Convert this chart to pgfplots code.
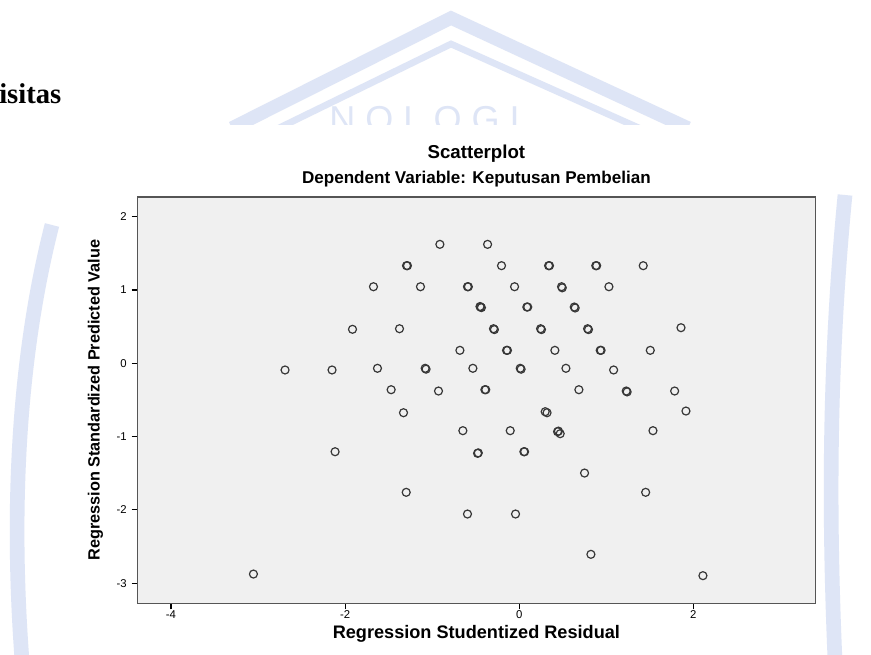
\documentclass[border=0pt]{standalone}
\usepackage{fontspec}
\setmainfont{Liberation Sans}
\newfontfamily\serifb{Liberation Serif}
\newfontfamily\wmfont[LetterSpace=28]{Liberation Sans}
\usepackage{pgfplots}
\pgfplotsset{compat=1.18}
\definecolor{wm}{RGB}{222,229,246}
\definecolor{bg}{RGB}{240,240,240}
\definecolor{framec}{RGB}{85,85,85}
\definecolor{mk}{RGB}{55,55,55}
\begin{document}
\begin{tikzpicture}
\begin{scope}[x=0.75pt,y=-0.75pt]
\useasboundingbox (0,0) rectangle (871,655);
\fill[white] (0,0) rectangle (871,655);
% watermark
\draw[wm, line width=10pt, line join=miter] (232,128) -- (451,18) -- (688,128);
\draw[wm, line width=5pt, line join=miter] (279,128) -- (451,44) -- (639,128);
\begin{scope}
\clip (0,0) rectangle (871,125);
\node[wm, font=\wmfont\fontsize{27}{30}\selectfont, anchor=base west, inner sep=0pt] at (329,132) {NOLOGI};
\end{scope}
\draw[wm, line width=11pt] (52,225) .. controls (20,350) and (10,500) .. (22,660);
\draw[wm, line width=11pt] (845,195) .. controls (830,350) and (828,500) .. (835,660);
\fill[white] (70,125) rectangle (818,655);
\node[font=\serifb\bfseries\fontsize{21.5}{24}\selectfont, anchor=base west, inner sep=0pt] at (-1,104) {isitas};
\node[font=\bfseries\fontsize{14}{16}\selectfont, inner sep=1pt] at (476.4,154) {Scatterplot};
\node[font=\bfseries\fontsize{12.8}{15}\selectfont, inner sep=1pt] at (476.4,179) {Dependent Variable: Keputusan Pembelian};
\end{scope}
\begin{axis}[
  at={(103.125pt,-452.475pt)}, anchor=south west,
  scale only axis, width=508.35pt, height=304.725pt,
  xmin=-4.385, xmax=3.402, ymin=-3.274, ymax=2.269,
  xtick={-4,-2,0,2}, ytick={-3,-2,-1,0,1,2},
  tick pos=left, tick align=outside, major tick length=4.5pt,
  axis background/.style={fill=bg},
  axis line style={draw=framec, line width=1pt},
  every tick/.style={draw=black, line width=0.8pt},
  ticklabel style={font=\fontsize{8.5}{10}\selectfont},
  xticklabel style={inner sep=1pt},
  /pgf/number format/assume math mode=true,
  xlabel={Regression Studentized Residual},
  ylabel={Regression Standardized Predicted Value},
  xlabel style={font=\bfseries\fontsize{13.6}{15}\selectfont, inner sep=0pt, at={(axis description cs:0.5,-0.0743)}, anchor=center},
  ylabel style={font=\bfseries\fontsize{12.2}{14}\selectfont, at={(axis description cs:-0.062,0.5)}, anchor=center},
]
\addplot[only marks, mark=o, mark size=3pt, mark options={draw=mk, line width=0.9pt}] table {
x y
-0.911 1.623
-0.363 1.623
-1.294 1.332
-1.284 1.332
-0.203 1.332
0.338 1.332
0.348 1.332
0.880 1.332
0.890 1.332
1.425 1.332
-1.674 1.045
-1.134 1.045
-0.594 1.045
-0.584 1.045
-0.053 1.045
0.487 1.045
0.495 1.030
1.031 1.045
-0.444 0.768
-0.434 0.760
-0.450 0.775
0.088 0.768
0.098 0.768
0.633 0.768
0.643 0.755
-1.915 0.464
-1.375 0.472
-0.295 0.472
-0.285 0.460
0.246 0.472
0.256 0.460
0.786 0.472
0.796 0.460
1.859 0.486
-0.681 0.177
-0.145 0.177
-0.135 0.177
0.410 0.177
0.931 0.177
0.941 0.177
1.506 0.177
-2.690 -0.091
-2.150 -0.091
-1.628 -0.068
-1.080 -0.068
-1.070 -0.080
-0.532 -0.068
0.012 -0.068
0.022 -0.080
0.537 -0.068
1.085 -0.091
-1.471 -0.360
-0.927 -0.378
-0.394 -0.360
-0.384 -0.360
0.686 -0.360
1.230 -0.378
1.240 -0.390
1.786 -0.378
-1.329 -0.674
0.299 -0.660
0.320 -0.674
1.916 -0.651
-0.647 -0.919
-0.103 -0.919
0.441 -0.933
0.451 -0.925
0.471 -0.960
1.537 -0.919
-2.115 -1.206
-0.478 -1.228
-0.470 -1.222
0.054 -1.206
0.062 -1.206
0.751 -1.497
-1.298 -1.760
1.453 -1.760
-0.594 -2.056
-0.042 -2.056
0.824 -2.606
-3.053 -2.875
2.111 -2.897
};
\end{axis}
\end{tikzpicture}
\end{document}
